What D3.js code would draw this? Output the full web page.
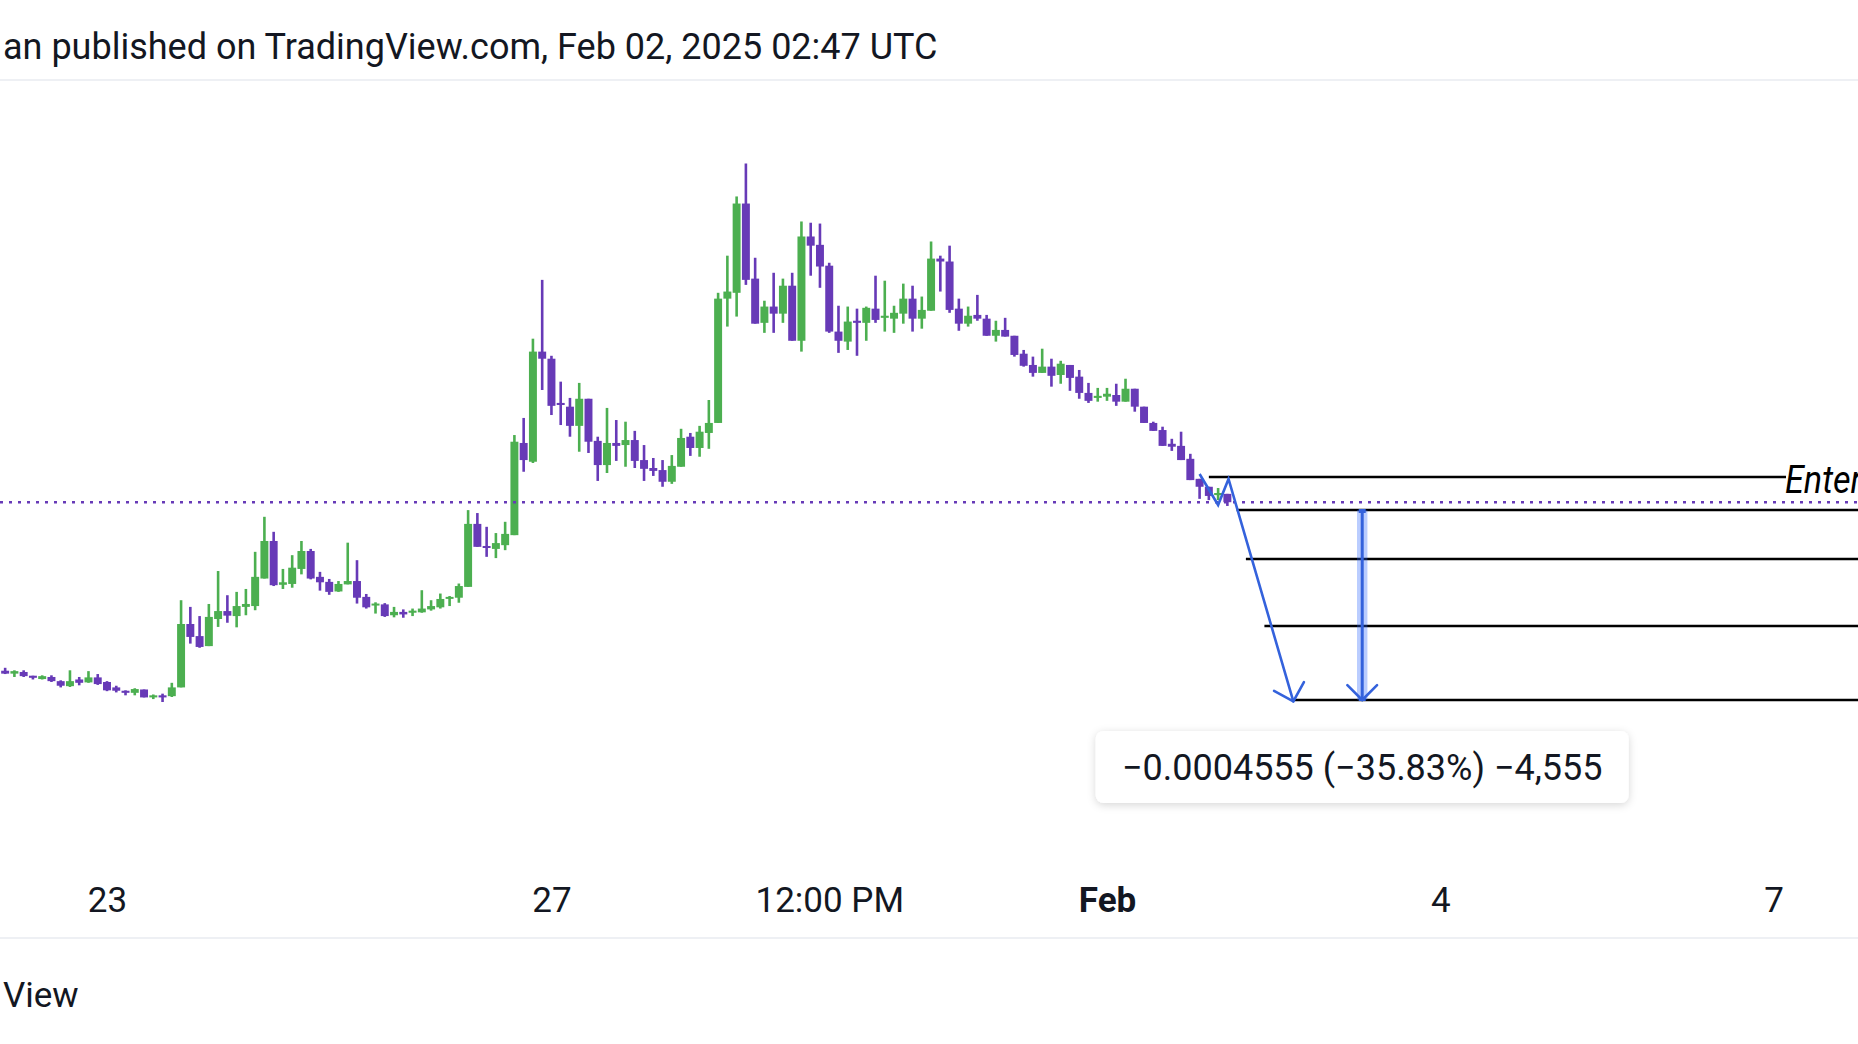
<!DOCTYPE html>
<html>
<head>
<meta charset="utf-8">
<script src="https://cdn.jsdelivr.net/npm/d3@7"></script>
<style>
  html, body { margin: 0; padding: 0; background: #ffffff; }
  svg { display: block; font-family: Roboto, "Noto Sans", sans-serif; }
</style>
</head>
<body>
<svg id="chart" width="1858" height="1044"></svg>
<script>
// 2h bars, first bar opens Jan 22 02:00 UTC
var barStart = new Date("2025-01-22T02:00:00Z");
var barHours = 2;

var open = [
  0.000886, 0.000879, 0.000883, 0.000874, 0.000866, 0.000871, 0.000861, 0.000849, 0.000865, 0.000858,
  0.000870, 0.000859, 0.000846, 0.000838, 0.000833, 0.000841, 0.000822, 0.000827, 0.000825, 0.000846,
  0.000998, 0.000969, 0.000945, 0.001010, 0.001029, 0.001017, 0.001039, 0.001041, 0.001107, 0.001197,
  0.001092, 0.001094, 0.001130, 0.001173, 0.001111, 0.001099, 0.001076, 0.001093, 0.001101, 0.001063,
  0.001043, 0.001045, 0.001019, 0.001027, 0.001025, 0.001026, 0.001033, 0.001038, 0.001059, 0.001061,
  0.001087, 0.001238, 0.001185, 0.001178, 0.001187, 0.001211, 0.001432, 0.001387, 0.001651, 0.001634,
  0.001528, 0.001519, 0.001473, 0.001538, 0.001437, 0.001379, 0.001432, 0.001427, 0.001439, 0.001391,
  0.001372, 0.001367, 0.001339, 0.001375, 0.001447, 0.001420, 0.001456, 0.001480, 0.001778, 0.001792,
  0.002006, 0.001826, 0.001720, 0.001759, 0.001742, 0.001809, 0.001677, 0.001927, 0.001907, 0.001857,
  0.001699, 0.001675, 0.001725, 0.001720, 0.001754, 0.001732, 0.001730, 0.001742, 0.001778, 0.001730,
  0.001749, 0.001874, 0.001867, 0.001754, 0.001718, 0.001739, 0.001730, 0.001689, 0.001703, 0.001689,
  0.001646, 0.001619, 0.001600, 0.001615, 0.001595, 0.001619, 0.001591, 0.001552, 0.001540, 0.001543,
  0.001547, 0.001531, 0.001562, 0.001519, 0.001480, 0.001463, 0.001430, 0.001425, 0.001394, 0.001346,
  0.001327, 0.001307, 0.001310
];
var high = [
  0.000893, 0.000887, 0.000887, 0.000874, 0.000875, 0.000875, 0.000863, 0.000887, 0.000871, 0.000885,
  0.000878, 0.000861, 0.000850, 0.000839, 0.000844, 0.000841, 0.000829, 0.000831, 0.000857, 0.001055,
  0.001039, 0.001017, 0.001046, 0.001125, 0.001067, 0.001075, 0.001082, 0.001171, 0.001255, 0.001219,
  0.001130, 0.001163, 0.001197, 0.001178, 0.001123, 0.001106, 0.001101, 0.001193, 0.001151, 0.001070,
  0.001050, 0.001048, 0.001039, 0.001033, 0.001035, 0.001079, 0.001055, 0.001071, 0.001065, 0.001095,
  0.001271, 0.001264, 0.001231, 0.001216, 0.001243, 0.001451, 0.001492, 0.001682, 0.001823, 0.001641,
  0.001579, 0.001540, 0.001576, 0.001538, 0.001447, 0.001516, 0.001487, 0.001483, 0.001461, 0.001427,
  0.001396, 0.001391, 0.001403, 0.001466, 0.001456, 0.001473, 0.001535, 0.001792, 0.001881, 0.002023,
  0.002102, 0.001876, 0.001773, 0.001840, 0.001826, 0.001840, 0.001963, 0.001960, 0.001958, 0.001864,
  0.001761, 0.001759, 0.001754, 0.001759, 0.001833, 0.001821, 0.001761, 0.001814, 0.001809, 0.001783,
  0.001915, 0.001881, 0.001905, 0.001778, 0.001759, 0.001787, 0.001739, 0.001725, 0.001732, 0.001689,
  0.001655, 0.001639, 0.001658, 0.001634, 0.001629, 0.001619, 0.001607, 0.001576, 0.001564, 0.001564,
  0.001574, 0.001586, 0.001562, 0.001519, 0.001483, 0.001471, 0.001442, 0.001459, 0.001406, 0.001346,
  0.001327, 0.001324, 0.001310
];
var low = [
  0.000878, 0.000871, 0.000871, 0.000865, 0.000865, 0.000859, 0.000846, 0.000847, 0.000851, 0.000857,
  0.000852, 0.000837, 0.000834, 0.000827, 0.000827, 0.000822, 0.000818, 0.000811, 0.000823, 0.000846,
  0.000951, 0.000941, 0.000945, 0.000991, 0.001001, 0.000990, 0.001019, 0.001031, 0.001107, 0.001089,
  0.001082, 0.001085, 0.001117, 0.001105, 0.001078, 0.001068, 0.001075, 0.001093, 0.001047, 0.001035,
  0.001023, 0.001015, 0.001014, 0.001013, 0.001017, 0.001025, 0.001030, 0.001035, 0.001041, 0.001049,
  0.001087, 0.001183, 0.001159, 0.001156, 0.001175, 0.001211, 0.001363, 0.001384, 0.001559, 0.001499,
  0.001475, 0.001447, 0.001411, 0.001408, 0.001341, 0.001360, 0.001389, 0.001375, 0.001372, 0.001341,
  0.001353, 0.001327, 0.001334, 0.001375, 0.001401, 0.001399, 0.001418, 0.001480, 0.001711, 0.001735,
  0.001811, 0.001718, 0.001696, 0.001696, 0.001720, 0.001677, 0.001651, 0.001833, 0.001804, 0.001696,
  0.001648, 0.001655, 0.001641, 0.001677, 0.001720, 0.001699, 0.001696, 0.001718, 0.001699, 0.001706,
  0.001749, 0.001795, 0.001744, 0.001701, 0.001711, 0.001725, 0.001689, 0.001675, 0.001687, 0.001639,
  0.001615, 0.001591, 0.001600, 0.001567, 0.001574, 0.001557, 0.001538, 0.001528, 0.001531, 0.001533,
  0.001521, 0.001531, 0.001507, 0.001480, 0.001461, 0.001425, 0.001413, 0.001391, 0.001343, 0.001298,
  0.001295, 0.001295, 0.001281
];
var close = [
  0.000879, 0.000885, 0.000873, 0.000869, 0.000873, 0.000861, 0.000850, 0.000861, 0.000857, 0.000870,
  0.000854, 0.000839, 0.000838, 0.000833, 0.000842, 0.000822, 0.000827, 0.000822, 0.000846, 0.000998,
  0.000967, 0.000943, 0.001015, 0.001029, 0.001018, 0.001041, 0.001046, 0.001111, 0.001197, 0.001091,
  0.001098, 0.001133, 0.001173, 0.001107, 0.001098, 0.001075, 0.001094, 0.001101, 0.001061, 0.001038,
  0.001047, 0.001017, 0.001027, 0.001021, 0.001030, 0.001035, 0.001041, 0.001058, 0.001063, 0.001089,
  0.001238, 0.001183, 0.001183, 0.001192, 0.001214, 0.001435, 0.001391, 0.001651, 0.001634, 0.001521,
  0.001523, 0.001473, 0.001538, 0.001435, 0.001379, 0.001432, 0.001425, 0.001439, 0.001389, 0.001370,
  0.001365, 0.001339, 0.001377, 0.001444, 0.001420, 0.001459, 0.001480, 0.001778, 0.001795, 0.002006,
  0.001823, 0.001718, 0.001759, 0.001742, 0.001809, 0.001677, 0.001927, 0.001905, 0.001855, 0.001699,
  0.001677, 0.001723, 0.001720, 0.001756, 0.001727, 0.001737, 0.001744, 0.001778, 0.001730, 0.001751,
  0.001874, 0.001867, 0.001751, 0.001718, 0.001737, 0.001730, 0.001689, 0.001703, 0.001687, 0.001643,
  0.001617, 0.001600, 0.001615, 0.001593, 0.001622, 0.001588, 0.001552, 0.001533, 0.001545, 0.001550,
  0.001531, 0.001562, 0.001519, 0.001480, 0.001461, 0.001425, 0.001423, 0.001391, 0.001343, 0.001327,
  0.001305, 0.001312, 0.001290
];

var tickDates = ["2025-01-23T00:00:00Z", "2025-01-27T00:00:00Z", "2025-01-29T12:00:00Z",
                 "2025-02-01T00:00:00Z", "2025-02-04T00:00:00Z", "2025-02-07T00:00:00Z"];
var tickLabels = ["23", "27", "12:00 PM", "Feb", "4", "7"];

// drawings
var levelPrices = [0.0013504, 0.0012713, 0.0011538, 0.0009932, 0.0008158];
var levelStarts = ["2025-02-01T22:00:00Z", "2025-02-02T04:00:00Z", "2025-02-02T06:00:00Z",
                   "2025-02-02T10:00:00Z", "2025-02-02T16:00:00Z"];
var levelText = "Enter";
var arrowTimes = ["2025-02-01T20:00:00Z", "2025-02-02T00:00:00Z", "2025-02-02T02:15:00Z", "2025-02-02T16:15:00Z"];
var arrowPrices = [0.0013576, 0.0012833, 0.0013456, 0.0008123];
var measureTimes = ["2025-02-03T06:00:00Z", "2025-02-03T08:15:00Z"];
var measurePrices = [0.0012713, 0.0008158];
var tickSize = 0.0000001;

var headerText = "an published on TradingView.com, Feb 02, 2025 02:47 UTC";
var footerText = "View";

var W = 1858, H = 1044;
var svg = d3.select("#chart");

var x = d3.scaleUtc()
    .domain([new Date("2025-01-23T00:00:00Z"), new Date("2025-02-01T00:00:00Z")])
    .range([107, 1107]);
var y = d3.scaleLinear()
    .domain([0.0008158, 0.0012713])
    .range([700, 510]);

var bars = open.map(function(o, i) {
    return {
        t: new Date(barStart.getTime() + i * barHours * 3600 * 1000),
        o: o, h: high[i], l: low[i], c: close[i]
    };
});

var step = x(new Date(barStart.getTime() + barHours * 3600 * 1000)) - x(barStart);
var bodyW = step - 1.3;
var up = "#4caf50", down = "#673ab7";

// header + footer
svg.append("text")
    .attr("x", 3).attr("y", 59)
    .style("font-size", "36px").style("fill", "#131722")
    .text(headerText);
svg.append("line")
    .attr("x1", 0).attr("x2", W).attr("y1", 80).attr("y2", 80)
    .attr("stroke", "#eef0f4").attr("stroke-width", 2);
svg.append("line")
    .attr("x1", 0).attr("x2", W).attr("y1", 938).attr("y2", 938)
    .attr("stroke", "#eef0f4").attr("stroke-width", 2);
svg.append("text")
    .attr("x", 3).attr("y", 1007)
    .style("font-size", "35px").style("fill", "#131722")
    .text(footerText);

// candles
var candles = svg.append("g").selectAll("g")
    .data(bars)
    .enter().append("g")
    .attr("fill", function(d) { return d.c >= d.o ? up : down; });

candles.append("rect")
    .attr("x", function(d) { return x(d.t) - 1.3; })
    .attr("y", function(d) { return y(d.h); })
    .attr("width", 2.6)
    .attr("height", function(d) { return Math.max(1, y(d.l) - y(d.h)); });

candles.append("rect")
    .attr("x", function(d) { return x(d.t) - bodyW / 2; })
    .attr("y", function(d) { return y(Math.max(d.o, d.c)); })
    .attr("width", bodyW)
    .attr("height", function(d) { return Math.max(2, Math.abs(y(d.o) - y(d.c))); });

// last price line
var last = close[close.length - 1];
svg.append("line")
    .attr("x1", 0).attr("x2", W)
    .attr("y1", y(last)).attr("y2", y(last))
    .attr("stroke", down).attr("stroke-width", 2.6)
    .attr("stroke-dasharray", "3 6");

// horizontal levels
var fmtTime = function(s) { return new Date(s); };
svg.append("g").selectAll("line")
    .data(levelPrices)
    .enter().append("line")
    .attr("x1", function(d, i) { return x(fmtTime(levelStarts[i])); })
    .attr("x2", function(d, i) { return i === 0 ? 1786 : W; })
    .attr("y1", function(d) { return y(d); })
    .attr("y2", function(d) { return y(d); })
    .attr("stroke", "#000000").attr("stroke-width", 2.3);

// level label, runs off the right edge as in the original
svg.append("text")
    .attr("transform", "translate(1785," + (y(levelPrices[0]) + 16) + ") scale(0.9,1)")
    .style("font-size", "38px").style("font-style", "italic").style("fill", "#000")
    .text(levelText);

// arrow helper
var blue = "#3462dc";
function arrowHead(g, tip, from, len) {
    var a = Math.atan2(from[1] - tip[1], from[0] - tip[0]);
    [-Math.PI / 4, Math.PI / 4].forEach(function(da) {
        g.append("line")
            .attr("x1", tip[0]).attr("y1", tip[1])
            .attr("x2", tip[0] + len * Math.cos(a + da))
            .attr("y2", tip[1] + len * Math.sin(a + da))
            .attr("stroke", blue).attr("stroke-width", 2.6).attr("stroke-linecap", "round");
    });
}

var pts = arrowTimes.map(function(t, i) { return [x(fmtTime(t)), y(arrowPrices[i])]; });
var arrowG = svg.append("g");
arrowG.append("path")
    .attr("d", d3.line()(pts))
    .attr("fill", "none").attr("stroke", blue).attr("stroke-width", 2.6)
    .attr("stroke-linejoin", "miter");
arrowHead(arrowG, pts[pts.length - 1], pts[pts.length - 2], 22);

// price range measure
var mx0 = x(fmtTime(measureTimes[0])), mx1 = x(fmtTime(measureTimes[1]));
var mx = (mx0 + mx1) / 2;
var my0 = y(measurePrices[0]), my1 = y(measurePrices[1]);
var measureG = svg.append("g");
measureG.append("rect")
    .attr("x", mx0).attr("y", my0)
    .attr("width", mx1 - mx0).attr("height", my1 - my0)
    .attr("fill", "rgba(41, 98, 255, 0.32)");
measureG.append("line")
    .attr("x1", mx).attr("x2", mx).attr("y1", my0).attr("y2", my1)
    .attr("stroke", blue).attr("stroke-width", 3);
measureG.append("rect")
    .attr("x", mx - 3.5).attr("y", my0 - 1).attr("width", 7).attr("height", 4).attr("fill", blue);
measureG.append("rect")
    .attr("x", mx - 3.5).attr("y", my1 - 3).attr("width", 7).attr("height", 4).attr("fill", blue);
arrowHead(measureG, [mx, my1], [mx, my0], 21);

// label box
var defs = svg.append("defs");
var shadow = defs.append("filter").attr("id", "shadow")
    .attr("x", "-10%").attr("y", "-30%").attr("width", "120%").attr("height", "170%");
shadow.append("feDropShadow")
    .attr("dx", 0).attr("dy", 2).attr("stdDeviation", 4)
    .attr("flood-color", "#000").attr("flood-opacity", 0.16);

var diff = measurePrices[1] - measurePrices[0];
var labelText = d3.format(".7f")(diff) + " (" + d3.format(".2f")(diff / measurePrices[0] * 100) + "%) " +
    d3.format(",")(Math.round(diff / tickSize));
var boxW = 533, boxH = 72;
var boxTop = my1 + 31;
svg.append("rect")
    .attr("x", mx - boxW / 2).attr("y", boxTop)
    .attr("width", boxW).attr("height", boxH).attr("rx", 8)
    .attr("fill", "#ffffff").attr("filter", "url(#shadow)");
svg.append("text")
    .attr("x", mx).attr("y", boxTop + boxH / 2 + 13)
    .attr("text-anchor", "middle")
    .style("font-size", "36px").style("fill", "#131722")
    .text(labelText);

// time axis
var axis = d3.axisBottom(x)
    .tickValues(tickDates.map(fmtTime))
    .tickFormat(function(d, i) { return tickLabels[i]; })
    .tickSize(0);
var axisG = svg.append("g").attr("transform", "translate(0,912)").call(axis);
axisG.select(".domain").remove();
axisG.selectAll("text")
    .attr("y", 0).attr("dy", null)
    .style("font-family", "Roboto, sans-serif")
    .style("font-size", "35px").style("fill", "#131722")
    .style("font-weight", function(d, i) { return tickLabels[i] === "Feb" ? "bold" : "normal"; });
</script>
</body>
</html>
